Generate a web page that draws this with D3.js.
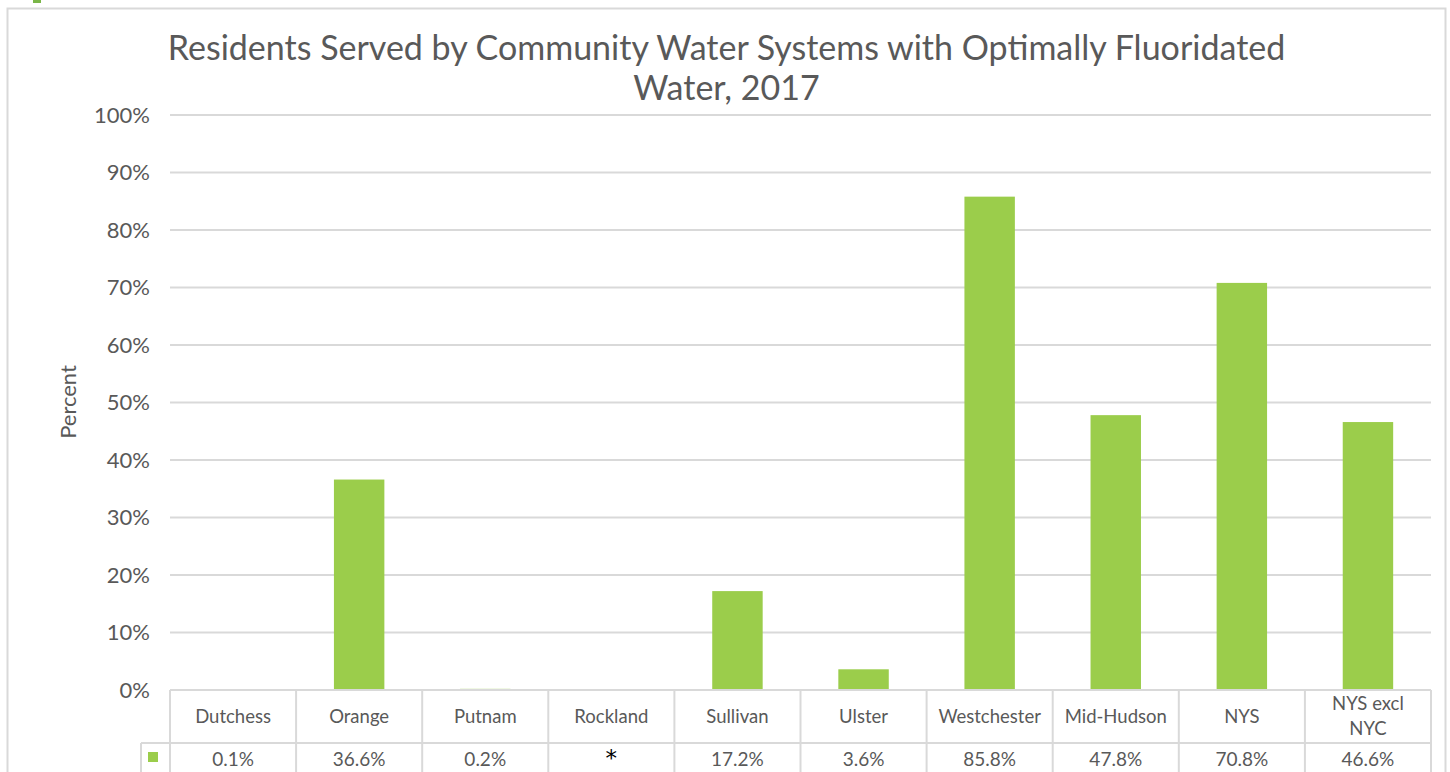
<!DOCTYPE html>
<html><head><meta charset="utf-8">
<script src="https://cdn.jsdelivr.net/npm/d3@7"></script>
<style>body{margin:0;background:#fff;} text{font-family:"Century Gothic","Lato","Open Sans",sans-serif;}</style>
</head><body>
<svg id="c" width="1450" height="772"></svg>
<script>
const categories = ["Dutchess","Orange","Putnam","Rockland","Sullivan","Ulster","Westchester","Mid-Hudson","NYS","NYS excl NYC"];
const values = [0.1, 36.6, 0.2, null, 17.2, 3.6, 85.8, 47.8, 70.8, 46.6];
const valueLabels = ["0.1%","36.6%","0.2%","*","17.2%","3.6%","85.8%","47.8%","70.8%","46.6%"];
const yTicks = [0,10,20,30,40,50,60,70,80,90,100];
const title = ["Residents Served by Community Water Systems with Optimally Fluoridated","Water, 2017"];

const svg = d3.select("#c");
const grey = "#595959", line = "#d9d9d9", green = "#9bcd4b";
const L = 170, R = 1431, T = 115, B = 690;

svg.append("rect").attr("x",7.5).attr("y",8.5).attr("width",1438).attr("height",780)
  .attr("fill","#fff").attr("stroke",line).attr("stroke-width",2);
svg.append("rect").attr("x",33).attr("y",0).attr("width",8).attr("height",3).attr("fill","#7ab648");

const x = d3.scaleBand().domain(categories).range([L,R]).paddingInner(0.6).paddingOuter(0.3);
const xc = d3.scaleBand().domain(categories).range([L,R]);
const y = d3.scaleLinear().domain([0,100]).range([B,T]);

// grid
svg.append("g").selectAll("line").data(yTicks.filter(d=>d>0)).join("line")
  .attr("x1",L).attr("x2",R).attr("y1",d=>y(d)).attr("y2",d=>y(d))
  .attr("stroke",line).attr("stroke-width",2);

// y axis
const ya = svg.append("g").attr("transform",`translate(${L-20},0)`)
  .call(d3.axisLeft(y).tickValues(yTicks).tickFormat(d=>d+"%").tickSize(0).tickPadding(0));
ya.select(".domain").remove();
ya.selectAll("text").attr("fill",grey).style("font-size","22px").style("font-family","'Century Gothic',Lato,sans-serif");

// bars
svg.append("g").selectAll("rect").data(categories.map((c,i)=>({c,v:values[i]})).filter(d=>d.v!=null)).join("rect")
  .attr("x",d=>x(d.c)).attr("width",x.bandwidth())
  .attr("y",d=>y(d.v)).attr("height",d=>B-y(d.v)).attr("fill",green);

// table
const rowH = 53;
const tg = svg.append("g");
tg.append("line").attr("x1",L).attr("x2",R).attr("y1",B).attr("y2",B).attr("stroke",line).attr("stroke-width",2);
tg.append("line").attr("x1",141).attr("x2",R).attr("y1",B+rowH).attr("y2",B+rowH).attr("stroke",line).attr("stroke-width",2);
const bounds = categories.map(c=>xc(c)).concat([R]);
tg.selectAll("line.v").data(bounds).join("line").attr("class","v")
  .attr("x1",d=>d).attr("x2",d=>d).attr("y1",B).attr("y2",790).attr("stroke",line).attr("stroke-width",2);
tg.append("line").attr("x1",141).attr("x2",141).attr("y1",B+rowH).attr("y2",790).attr("stroke",line).attr("stroke-width",2);
tg.append("rect").attr("x",148).attr("y",752).attr("width",10).attr("height",10).attr("fill",green);

categories.forEach((c,i)=>{
  const cx = xc(c)+xc.bandwidth()/2;
  const parts = c==="NYS excl NYC" ? ["NYS excl","NYC"] : [c];
  const t = tg.append("text").attr("x",cx).attr("text-anchor","middle").attr("fill",grey).style("font-size","18.5px");
  if(parts.length===1){ t.attr("y",723).text(c); }
  else { parts.forEach((p,j)=>t.append("tspan").attr("x",cx).attr("y",710+j*25).text(p)); }
  const star = valueLabels[i]==="*";
  tg.append("text").attr("x",cx).attr("y", 766).attr("text-anchor","middle")
    .attr("fill", star ? "#000" : grey).style("font-size", star ? "23px":"19px")
    .style("font-family", star ? "'DejaVu Sans',sans-serif" : null)
    .text(valueLabels[i]);
});

// y label
svg.append("text").attr("transform","translate(76,402) rotate(-90)").attr("text-anchor","middle")
  .attr("fill",grey).style("font-size","22px").text("Percent");

// title
title.forEach((t,i)=>svg.append("text").attr("x",726.5).attr("y",60+i*40).attr("text-anchor","middle")
  .attr("fill",grey).style("font-size","34px").text(t));
</script>
</body></html>
